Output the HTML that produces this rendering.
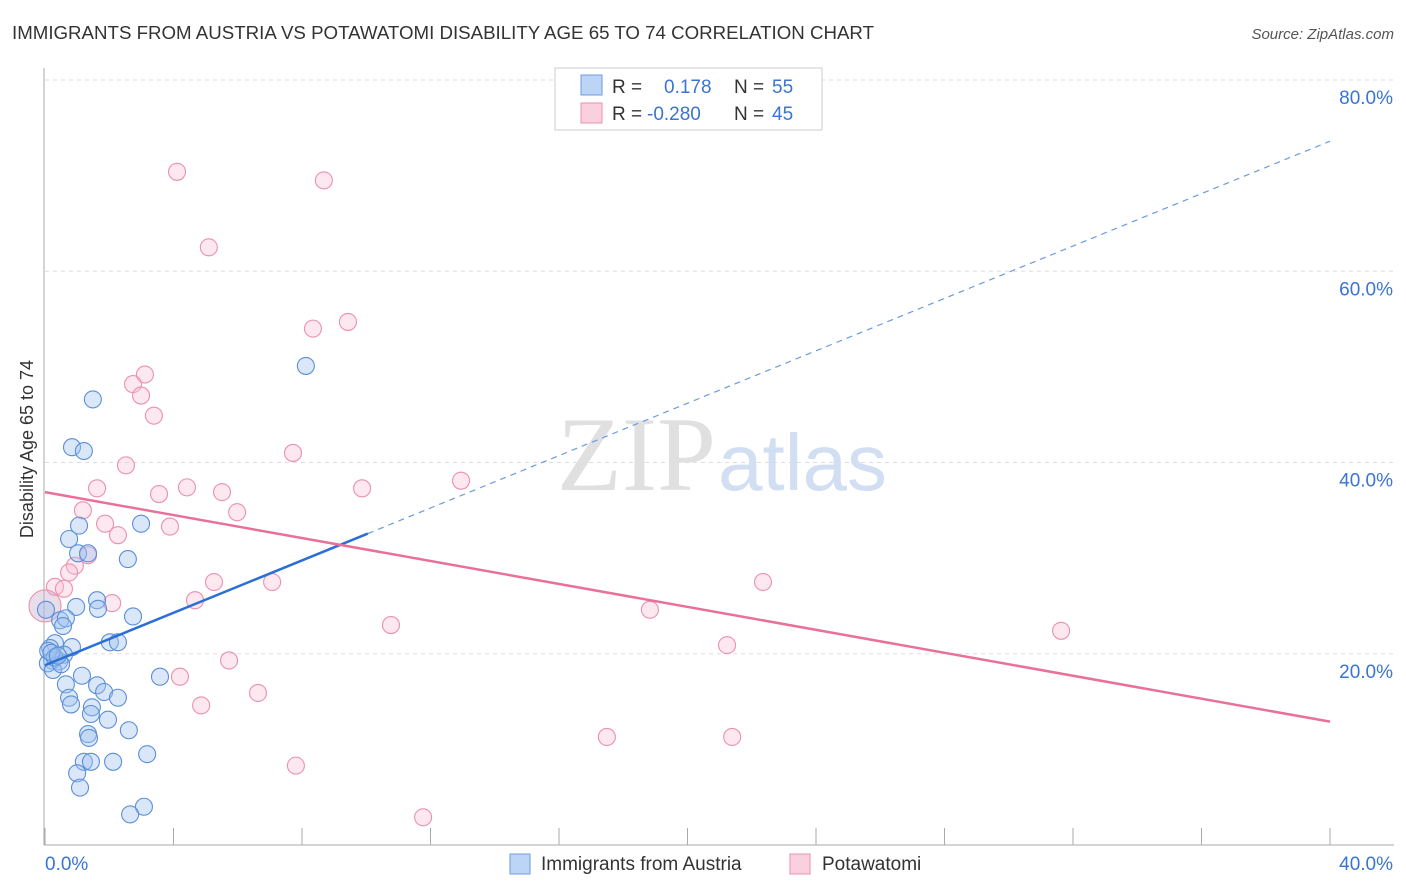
<!DOCTYPE html>
<html><head><meta charset="utf-8"><style>
body{margin:0;background:#fff;font-family:"Liberation Sans",sans-serif}
svg{display:block}
</style></head><body>
<svg id="c" width="1406" height="892" xmlns="http://www.w3.org/2000/svg">
<text x="12" y="39" font-size="18" fill="#333" textLength="862" lengthAdjust="spacingAndGlyphs">IMMIGRANTS FROM AUSTRIA VS POTAWATOMI DISABILITY AGE 65 TO 74 CORRELATION CHART</text>
<text x="1394" y="39" font-size="15" fill="#555" font-style="italic" text-anchor="end">Source: ZipAtlas.com</text>
<text x="40" y="456" font-size="18" fill="#333" transform="rotate(-90 33 456)" text-anchor="middle">Disability Age 65 to 74</text>
<g id="grid"></g>
<text x="716" y="490" font-size="106" fill="#e0e0e0" text-anchor="end" font-family="Liberation Serif,serif">ZIP</text>
<text x="718" y="490" font-size="80" fill="#d2def2">atlas</text>
<g id="pts"></g>
<g id="lines"></g>
<g>
<rect x="555" y="68" width="267" height="62" fill="#fff" stroke="#ccc"/>
<rect x="581" y="75" width="21" height="20" fill="#bcd4f5" stroke="#6d9be0"/>
<rect x="581" y="103" width="21" height="20" fill="#fbd0de" stroke="#ec90ae"/>
<text x="612" y="93" font-size="19" fill="#333">R = </text><text x="664" y="93" font-size="19" fill="#3a74d4">0.178</text>
<text x="734" y="93" font-size="19" fill="#333">N = </text><text x="772" y="93" font-size="19" fill="#3a74d4">55</text>
<text x="612" y="120" font-size="19" fill="#333">R = </text><text x="647" y="120" font-size="19" fill="#3a74d4">-0.280</text>
<text x="734" y="120" font-size="19" fill="#333">N = </text><text x="772" y="120" font-size="19" fill="#3a74d4">45</text>
</g>
<g>
<rect x="510" y="854" width="20" height="20" fill="#bcd4f5" stroke="#6d9be0"/>
<text x="541" y="870" font-size="19" fill="#333">Immigrants from Austria</text>
<rect x="790" y="854" width="20" height="20" fill="#fbd0de" stroke="#ec90ae"/>
<text x="822" y="870" font-size="19" fill="#333">Potawatomi</text>
</g>
</svg>
<script>
const yTicks=[20,40,60,80];
const xTickLabels=["0.0%","40.0%"];
const blueX=[8.12,1.49,0.84,1.21,0.75,1.06,2.99,1.03,1.34,2.58,1.62,0.97,1.65,2.74,0.47,0.65,0.56,0.03,2.02,2.27,0.31,0.84,0.16,0.59,0.22,0.44,0.09,0.25,3.58,1.15,0.65,1.62,1.84,2.27,0.75,0.81,1.46,1.43,1.96,2.61,1.34,1.37,3.18,2.12,1.21,1.43,1.0,1.09,3.08,2.65,0.1,0.3,0.5,0.2,0.4];
const blueY=[50.1,46.6,41.6,41.2,32.0,33.4,33.6,30.5,30.5,29.9,25.6,24.9,24.7,23.9,23.5,23.7,22.9,24.6,21.2,21.2,21.1,20.7,20.6,19.9,19.3,19.2,19.0,18.3,17.6,17.7,16.8,16.7,16.0,15.4,15.4,14.7,14.4,13.7,13.1,12.0,11.6,11.2,9.5,8.7,8.7,8.7,7.5,6.0,4.0,3.2,20.3,19.6,18.9,20.1,19.8];
const pinkX=[4.11,8.68,5.10,8.34,9.43,3.11,2.74,2.99,3.39,7.72,2.52,12.95,1.62,4.42,3.55,5.51,9.87,5.98,1.18,1.87,3.89,2.27,1.34,0.93,0.75,0.31,0.59,5.26,7.07,22.35,2.09,4.67,18.83,10.77,31.63,21.23,5.73,4.20,6.63,4.86,17.49,21.39,7.81,11.77,0.0];
const pinkY=[70.4,69.5,62.5,54.0,54.7,49.2,48.2,47.0,44.9,41.0,39.7,38.1,37.3,37.4,36.7,36.9,37.3,34.8,35.0,33.6,33.3,32.4,30.3,29.2,28.5,27.0,26.8,27.5,27.5,27.5,25.3,25.6,24.6,23.0,22.4,20.9,19.3,17.6,15.9,14.6,11.3,11.3,8.3,2.9,25.0];
const blueFit=[18.8,1.37]; // intercept, slope
const pinkFit=[36.9,-0.60];
const sx=v=>45+v*1285/40, sy=v=>845-v*9.5625;
const NS="http://www.w3.org/2000/svg";
function mk(p,t,a){const e=document.createElementNS(NS,t);for(const k in a)e.setAttribute(k,a[k]);p.appendChild(e);return e;}
const svg=document.getElementById('c'),grid=document.getElementById('grid'),pts=document.getElementById('pts'),lines=document.getElementById('lines');
yTicks.forEach(t=>{
 const l=mk(grid,'line',{x1:45,x2:1394,y1:sy(t),y2:sy(t),stroke:'#ddd','stroke-dasharray':'4,4'});
 
 
 const tx=mk(grid,'text',{x:1393,y:sy(t)+24,'font-size':19,fill:'#3a74d4','text-anchor':'end'});
 tx.textContent=t.toFixed(1)+'%';
 
 
});
const ax=mk(grid,'line',{x1:44,x2:44,y1:68,y2:845,stroke:'#aaa'});


const bx=mk(grid,'line',{x1:44,x2:1394,y1:845,y2:845,stroke:'#aaa'});


for(let i=0;i<=10;i++){const t=mk(grid,'line',{x1:sx(i*4),x2:sx(i*4),y1:828,y2:845,stroke:'#aaa'});
 
 }
[[0,45,'start'],[40,1393,'end']].forEach((d,i)=>{const t=mk(grid,'text',{x:d[1],y:870,'font-size':19,fill:'#3a74d4','text-anchor':d[2]});t.textContent=xTickLabels[i];
 
 });
pinkX.forEach((x,i)=>{const c=mk(pts,'circle',{cx:sx(x),cy:sy(pinkY[i]),r:i==44?16:8.5,fill:i==44?'rgba(200,170,200,0.4)':'rgba(248,190,212,0.35)',stroke:'#ec90ae','stroke-width':1.1});
 
 });
blueX.forEach((x,i)=>{const c=mk(pts,'circle',{cx:sx(x),cy:sy(blueY[i]),r:8.5,fill:'rgba(160,196,240,0.4)',stroke:'#5b8fd9','stroke-width':1.1});
 
 });
const bl=mk(lines,'line',{x1:sx(0),y1:sy(blueFit[0]),x2:sx(10.05),y2:sy(blueFit[0]+blueFit[1]*10.05),stroke:'#2a6fd6','stroke-width':2.5});


const bd=mk(lines,'line',{x1:sx(10.05),y1:sy(blueFit[0]+blueFit[1]*10.05),x2:sx(40),y2:sy(blueFit[0]+blueFit[1]*40),stroke:'#6a9be0','stroke-width':1.2,'stroke-dasharray':'6,5'});


const pl=mk(lines,'line',{x1:sx(0),y1:sy(pinkFit[0]),x2:sx(40),y2:sy(pinkFit[0]+pinkFit[1]*40),stroke:'#e8709a','stroke-width':2.5});


</script>
</body></html>
